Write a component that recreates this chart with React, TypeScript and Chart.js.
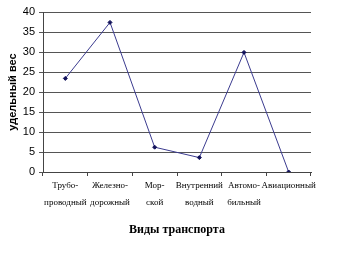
import React, { useEffect, useRef } from "react";
import { Chart, registerables } from "chart.js";

Chart.register(...registerables);

const categories: string[][] = [
  ["Трубо-", "проводный"],
  ["Железно-", "дорожный"],
  ["Мор-", "ской"],
  ["Внутренний", "водный"],
  ["Автомо-", "бильный"],
  ["Авиационный"],
];
const values: number[] = [23.4, 37.4, 6.2, 3.6, 29.9, 0];
const yTicks: number[] = [0, 5, 10, 15, 20, 25, 30, 35, 40];

export default function App() {
  const ref = useRef<HTMLCanvasElement | null>(null);
  useEffect(() => {
    if (!ref.current) return;
    const chart = new Chart(ref.current, {
      type: "line",
      data: {
        labels: categories,
        datasets: [
          {
            data: values,
            borderColor: "#3b3b8f",
            borderWidth: 1,
            backgroundColor: "#10105a",
            pointBackgroundColor: "#10105a",
            pointBorderColor: "#10105a",
            pointStyle: "rectRot",
            pointRadius: 2,
            tension: 0,
          },
        ],
      },
      options: {
        animation: false,
        responsive: false,
        maintainAspectRatio: false,
        layout: { padding: { left: 0, right: 46, top: 12, bottom: 0 } },
        plugins: { legend: { display: false }, tooltip: { enabled: false } },
        scales: {
          x: {
            type: "category",
            offset: true,
            grid: {
              display: true,
              drawOnChartArea: false,
              drawTicks: true,
              tickLength: 4,
              color: "#444",
              offset: true,
            },
            border: { display: true, color: "#444", width: 1 },
            ticks: {
              color: "#000",
              font: { family: "Liberation Serif", size: 9, lineHeight: 1.9 },
              padding: 1,
              maxRotation: 0,
              minRotation: 0,
              autoSkip: false,
            },
            title: {
              display: true,
              text: "Виды транспорта",
              color: "#000",
              font: { family: "Liberation Serif", size: 12, weight: "bold" },
              padding: { top: 0, bottom: 17 },
            },
            afterFit: (s: any) => {
              s.height = 82;
            },
          },
          y: {
            min: 0,
            max: 40,
            afterBuildTicks: (s: any) => {
              s.ticks = yTicks.map((v) => ({ value: v }));
            },
            grid: {
              color: "#555",
              tickLength: 4,
              lineWidth: 1,
            },
            border: { display: true, color: "#444", width: 1 },
            ticks: {
              color: "#000",
              font: { family: "Liberation Sans", size: 11 },
              padding: 4,
            },
            title: {
              display: true,
              text: "удельный вес",
              color: "#000",
              font: { family: "Liberation Sans", size: 11, weight: "bold" },
              padding: { top: 6, bottom: 0 },
            },
            afterFit: (s: any) => {
              s.width = 43;
            },
          },
        },
      },
    });
    return () => chart.destroy();
  }, []);
  return (
    <div style={{ position: "fixed", left: 0, top: 0, width: 357, height: 254, background: "#fff" }}>
      <canvas ref={ref} width={357} height={254} style={{ width: 357, height: 254, display: "block" }} />
    </div>
  );
}
